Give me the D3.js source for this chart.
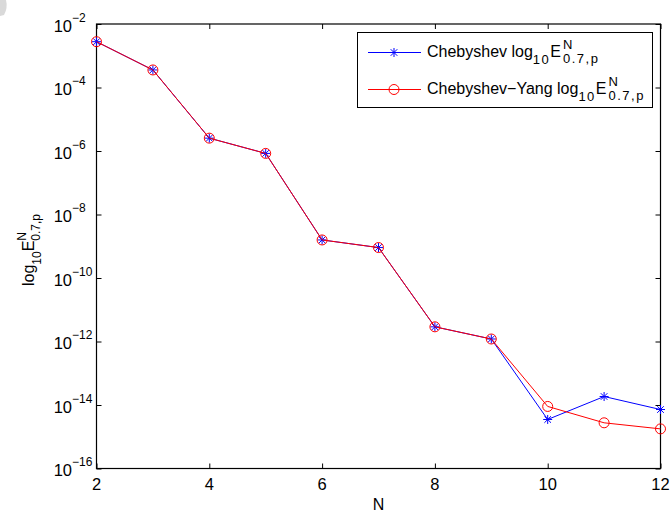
<!DOCTYPE html>
<html>
<head>
<meta charset="utf-8">
<script src="https://cdn.jsdelivr.net/npm/d3@7"></script>
<style>
  html, body { margin: 0; padding: 0; background: #fff; }
  svg { display: block; }
  text { font-family: "Liberation Sans", Arial, Helvetica, sans-serif; fill: #000; }
</style>
</head>
<body>
<svg id="chart" width="670" height="512"></svg>
<script>
// Approximation error vs. polynomial degree N
const degrees = [2, 3, 4, 5, 6, 7, 8, 9, 10, 11, 12];
const chebyshevErr = [2.77e-3, 3.57e-4, 2.54e-6, 8.4e-7, 1.58e-9, 9.1e-10, 2.9e-12, 1.2e-12, 3.5e-15, 1.85e-14, 7.2e-15];
const chebyshevYangErr = [2.77e-3, 3.57e-4, 2.54e-6, 8.4e-7, 1.58e-9, 9.1e-10, 2.9e-12, 1.2e-12, 9.0e-15, 2.75e-15, 1.77e-15];
const xTicks = [2, 4, 6, 8, 10, 12];
const yTickExponents = [-2, -4, -6, -8, -10, -12, -14, -16];

const svg = d3.select("#chart");
const plot = { left: 96.5, right: 660.5, top: 24, bottom: 468.5 };

// small grey mark at the top-left corner
svg.append("path")
  .attr("d", "M0,0 L6,0 Q8,8 4,15 L0,16 Z")
  .attr("fill", "#d9d9d9");

const x = d3.scaleLinear().domain([2, 12]).range([plot.left, plot.right]);
const y = d3.scaleLog().domain([1e-16, 1e-2]).range([plot.bottom, plot.top]);

// Draws a run of text pieces: base, subscript, or stacked sup+sub.
// st = { fs, sfs, ls (letter spacing of small text), gap (space after base glyphs before scripts) }
function richText(g, x0, y0, parts, st) {
  let cx = x0;
  const put = (txt, yy, size, ls) => {
    const t = g.append("text").attr("x", cx).attr("y", yy).attr("font-size", size)
      .attr("letter-spacing", ls).text(txt);
    return t.node().getComputedTextLength();
  };
  parts.forEach(p => {
    if (p.type === "base") {
      cx += put(p.t, y0, st.fs, 0) + (p.gap || 0);
    } else if (p.type === "sub") {
      cx += put(p.t, y0 + 7, st.sfs, st.ls);
    } else if (p.type === "supsub") {
      const a = put(p.sup, y0 - 8, st.sfs, st.ls);
      const b = put(p.sub, y0 + 6, st.sfs, st.ls);
      cx += Math.max(a, b);
    }
  });
  return cx - x0;
}

// Axes box
const axes = svg.append("g");

// Tick marks (inward, on all four sides) via d3 axes
const yVals = yTickExponents.map(e => Math.pow(10, e));
const xAxisB = d3.axisBottom(x).tickValues(xTicks).tickSize(-5).tickFormat("");
const xAxisT = d3.axisTop(x).tickValues(xTicks).tickSize(-5).tickFormat("");
const yAxisL = d3.axisLeft(y).tickValues(yVals).tickSize(-5).tickFormat("");
const yAxisR = d3.axisRight(y).tickValues(yVals).tickSize(-5).tickFormat("");

function styleAxis(g) {
  g.select(".domain").remove();
  g.selectAll(".tick line").attr("stroke", "#000").attr("stroke-width", 1);
}
axes.append("g").attr("transform", `translate(0,${plot.bottom})`).call(xAxisB).call(styleAxis);
axes.append("g").attr("transform", `translate(0,${plot.top})`).call(xAxisT).call(styleAxis);
axes.append("g").attr("transform", `translate(${plot.left},0)`).call(yAxisL).call(styleAxis);
axes.append("g").attr("transform", `translate(${plot.right},0)`).call(yAxisR).call(styleAxis);
axes.append("rect")
  .attr("x", plot.left).attr("y", plot.top)
  .attr("width", plot.right - plot.left).attr("height", plot.bottom - plot.top)
  .attr("fill", "none").attr("stroke", "#000").attr("stroke-width", 1.2);

// X tick labels
svg.append("g").selectAll("text").data(xTicks).join("text")
  .attr("x", d => x(d)).attr("y", plot.bottom + 21.5)
  .attr("text-anchor", "middle").attr("font-size", 16.5)
  .text(d => d);

// Y tick labels: "10" right-aligned, exponent trailing
const yLab = svg.append("g");
yTickExponents.forEach(e => {
  const py = y(Math.pow(10, e));
  const g = yLab.append("g");
  const base = g.append("text").attr("x", 0).attr("y", 0).attr("font-size", 16.5).text("10");
  const bw = base.node().getComputedTextLength();
  g.append("text").attr("x", bw).attr("y", -10).attr("font-size", 12).text("\u2212" + Math.abs(e));
  g.attr("transform", `translate(${plot.left - 24.5 - bw},${py + 7.5})`);
});

// Axis titles
svg.append("text")
  .attr("x", (plot.left + plot.right) / 2).attr("y", 510)
  .attr("text-anchor", "middle").attr("font-size", 16).text("N");

const yTitle = svg.append("g");
const yTitleInner = yTitle.append("g");
const tw = richText(yTitleInner, 0, 0, [
  { type: "base", t: "log" }, { type: "sub", t: "10" }, { type: "base", t: "E" },
  { type: "supsub", sup: "N", sub: "0.7,p" }
], { fs: 16, sfs: 12, ls: 0 });
yTitleInner.attr("transform", `translate(${-tw / 2},0)`);
yTitle.attr("transform", `translate(34,250) rotate(-90)`);

// Series
const line = d3.line().x(d => x(d[0])).y(d => y(d[1]));
const chebPts = degrees.map((n, i) => [n, chebyshevErr[i]]);
const yangPts = degrees.map((n, i) => [n, chebyshevYangErr[i]]);

const plotArea = svg.append("g");

function asterisk(g, cx, cy, color) {
  const a = 4.5, b = 3.3;
  g.append("path")
    .attr("d", `M${cx - a},${cy}L${cx + a},${cy}M${cx},${cy - a}L${cx},${cy + a}` +
               `M${cx - b},${cy - b}L${cx + b},${cy + b}M${cx - b},${cy + b}L${cx + b},${cy - b}`)
    .attr("stroke", color).attr("stroke-width", 1).attr("fill", "none");
}

plotArea.append("path").datum(chebPts).attr("d", line)
  .attr("fill", "none").attr("stroke", "#0000ff").attr("stroke-width", 1);
chebPts.forEach(p => asterisk(plotArea, x(p[0]), y(p[1]), "#0000ff"));

plotArea.append("path").datum(yangPts).attr("d", line)
  .attr("fill", "none").attr("stroke", "#ff0000").attr("stroke-width", 1);
plotArea.selectAll("circle.yang").data(yangPts).join("circle")
  .attr("class", "yang")
  .attr("cx", d => x(d[0])).attr("cy", d => y(d[1])).attr("r", 5)
  .attr("fill", "none").attr("stroke", "#ff0000").attr("stroke-width", 1);

// Legend
const leg = svg.append("g");
leg.append("rect")
  .attr("x", 357.5).attr("y", 32.5).attr("width", 295).attr("height", 75)
  .attr("fill", "#fff").attr("stroke", "#000").attr("stroke-width", 1);

const rows = [
  { y: 52.5, color: "#0000ff", name: "Chebyshev log", marker: "star" },
  { y: 89.5, color: "#ff0000", name: "Chebyshev\u2212Yang log", marker: "circle" }
];
rows.forEach(r => {
  leg.append("line").attr("x1", 368).attr("x2", 421).attr("y1", r.y).attr("y2", r.y)
    .attr("stroke", r.color).attr("stroke-width", 1);
  if (r.marker === "star") asterisk(leg, 394, r.y, r.color);
  else leg.append("circle").attr("cx", 394).attr("cy", r.y).attr("r", 5)
    .attr("fill", "none").attr("stroke", r.color).attr("stroke-width", 1);
  const g = leg.append("g");
  richText(g, 427, r.y + 4.5, [
    { type: "base", t: r.name }, { type: "sub", t: "10" }, { type: "base", t: "E", gap: 2 },
    { type: "supsub", sup: "N", sub: "0.7,p" }
  ], { fs: 16, sfs: 13, ls: 1.5 });
});
</script>
</body>
</html>
